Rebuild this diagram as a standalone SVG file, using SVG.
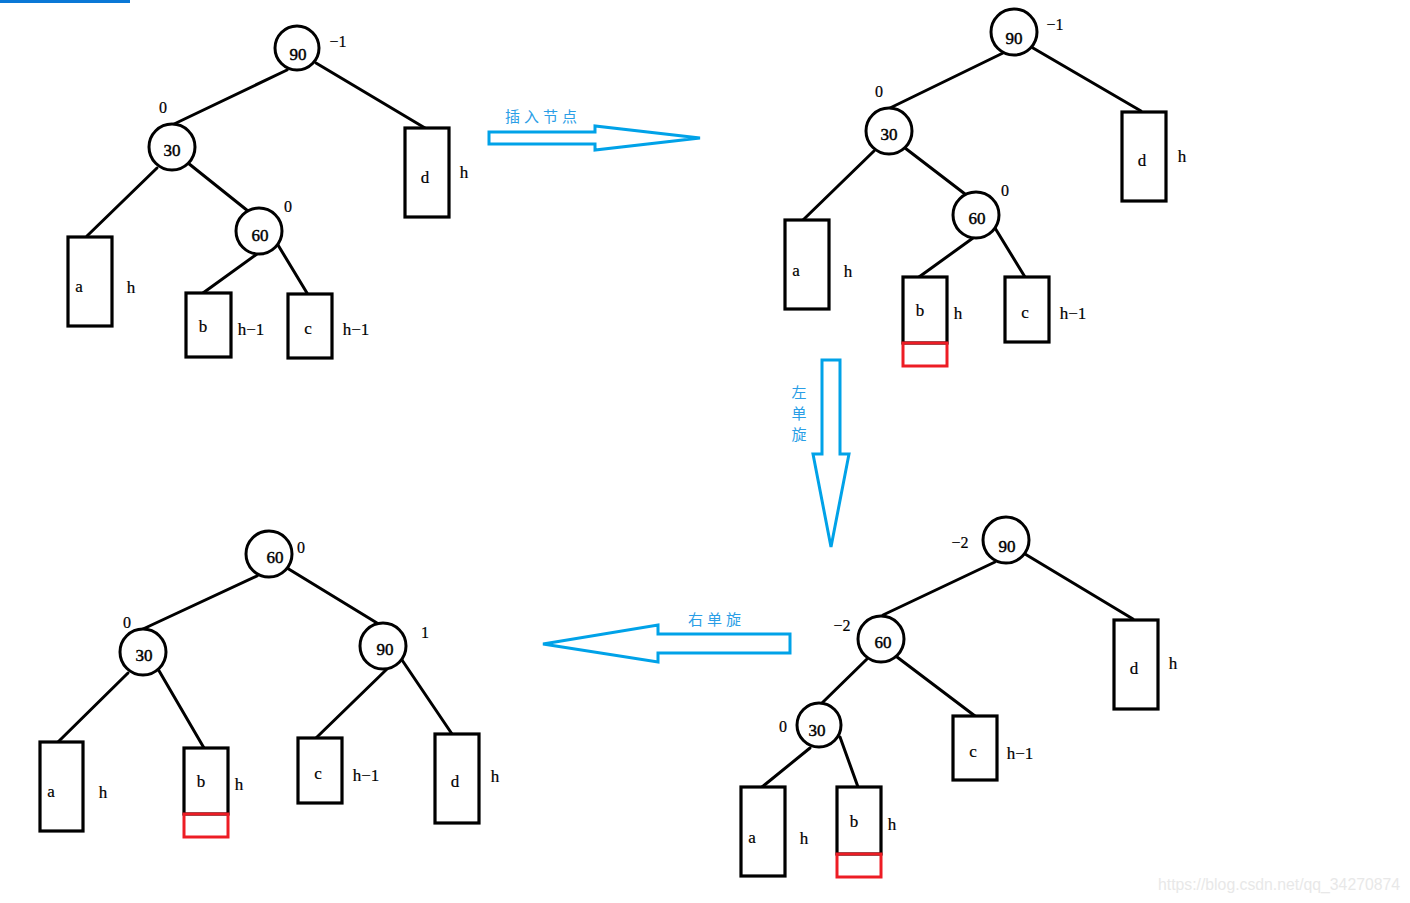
<svg xmlns="http://www.w3.org/2000/svg" width="1410" height="903" viewBox="0 0 1410 903">
  <style>
    .edge { stroke: #000; stroke-width: 3; fill: none; stroke-linecap: round; }
    .node circle { fill: #fff; stroke: #000; stroke-width: 3; }
    .node rect { fill: #fff; stroke: #000; stroke-width: 3.2; }
    rect.ins { fill: none; stroke: #ed1c24; stroke-width: 3; }
    text { font-family: "Liberation Serif", "DejaVu Serif", serif; font-size: 17px; fill: #000; }
    .key { text-anchor: middle; font-size: 17px; stroke: #000; stroke-width: 0.45; }
    .lbl { text-anchor: middle; stroke: #000; stroke-width: 0.2; }
    .bf { text-anchor: middle; font-size: 16px; stroke: #000; stroke-width: 0.2; }
    .step { fill: none; stroke: #00a2e8; stroke-width: 3; stroke-linejoin: miter; }
    .cn { font-family: "Noto Sans CJK SC", "Noto Sans", sans-serif; font-size: 15px; fill: #2a9ee6; letter-spacing: 4px; }
    .cnv { font-family: "Noto Sans CJK SC", "Noto Sans", sans-serif; font-size: 15px; fill: #2a9ee6; text-anchor: middle; }
    .mark { font-family: "Liberation Sans", Arial, sans-serif; font-size: 16px; fill: #e8e8e8; }
  </style>

  <!-- title bar accent -->
  <rect x="0" y="0" width="130" height="3" fill="#0a78d6"/>

  <!-- ===== tree 1: before insertion ===== -->
  <g id="t1-edges">
    <line class="edge" x1="287" y1="70" x2="172" y2="125"/>
    <line class="edge" x1="316" y1="63" x2="425" y2="128"/>
    <line class="edge" x1="157" y1="168" x2="87" y2="236"/>
    <line class="edge" x1="188" y1="163" x2="248" y2="211"/>
    <line class="edge" x1="257" y1="254" x2="203" y2="293"/>
    <line class="edge" x1="278" y1="245" x2="307" y2="293"/>
  </g>
  <g id="t1-n90" class="node">
    <circle cx="297" cy="48" r="22"/>
    <text class="key" x="298" y="60">90</text>
    <text class="bf" x="338" y="47">−1</text>
  </g>
  <g id="t1-n30" class="node">
    <circle cx="172" cy="147" r="23"/>
    <text class="key" x="172" y="156">30</text>
    <text class="bf" x="163" y="113">0</text>
  </g>
  <g id="t1-n60" class="node">
    <circle cx="259" cy="231" r="23"/>
    <text class="key" x="260" y="241">60</text>
    <text class="bf" x="288" y="212">0</text>
  </g>
  <g id="t1-a" class="node">
    <rect x="68" y="237" width="44" height="89"/>
    <text class="lbl" x="79" y="292">a</text>
    <text class="lbl" x="131" y="293">h</text>
  </g>
  <g id="t1-b" class="node">
    <rect x="186" y="293" width="45" height="64"/>
    <text class="lbl" x="203" y="332">b</text>
    <text class="lbl" x="251" y="335">h−1</text>
  </g>
  <g id="t1-c" class="node">
    <rect x="288" y="294" width="44" height="64"/>
    <text class="lbl" x="308" y="334">c</text>
    <text class="lbl" x="356" y="335">h−1</text>
  </g>
  <g id="t1-d" class="node">
    <rect x="405" y="128" width="44" height="89"/>
    <text class="lbl" x="425" y="183">d</text>
    <text class="lbl" x="464" y="178">h</text>
  </g>

  <!-- ===== step arrows ===== -->
  <g id="steps">
    <polygon class="step" points="489,132 595,132 595,126 700,138 595,150 595,144 489,144"/>
    <text class="cn" x="505" y="122">插入节点</text>

    <polygon class="step" points="822,360 840,360 840,454 849,454 831,547 813,454 822,454"/>
    <text class="cnv" x="799" y="398">左</text>
    <text class="cnv" x="799" y="419">单</text>
    <text class="cnv" x="799" y="440">旋</text>

    <polygon class="step" points="790,634 658,634 658,625 543,644 658,662 658,653 790,653"/>
    <text class="cn" x="688" y="625">右单旋</text>
  </g>

  <!-- ===== tree 2: after insertion under b ===== -->
  <g id="t2-edges">
    <line class="edge" x1="1003" y1="53" x2="890" y2="108"/>
    <line class="edge" x1="1033" y1="48" x2="1141" y2="111"/>
    <line class="edge" x1="874" y1="151" x2="803" y2="220"/>
    <line class="edge" x1="905" y1="148" x2="965" y2="194"/>
    <line class="edge" x1="973" y1="238" x2="919" y2="277"/>
    <line class="edge" x1="995" y1="228" x2="1025" y2="277"/>
  </g>
  <g id="t2-n90" class="node">
    <circle cx="1014" cy="32" r="23"/>
    <text class="key" x="1014" y="44">90</text>
    <text class="bf" x="1055" y="30">−1</text>
  </g>
  <g id="t2-n30" class="node">
    <circle cx="889" cy="131" r="23"/>
    <text class="key" x="889" y="140">30</text>
    <text class="bf" x="879" y="97">0</text>
  </g>
  <g id="t2-n60" class="node">
    <circle cx="976" cy="215" r="23"/>
    <text class="key" x="977" y="224">60</text>
    <text class="bf" x="1005" y="196">0</text>
  </g>
  <g id="t2-a" class="node">
    <rect x="785" y="220" width="44" height="89"/>
    <text class="lbl" x="796" y="276">a</text>
    <text class="lbl" x="848" y="277">h</text>
  </g>
  <g id="t2-b" class="node">
    <rect x="903" y="277" width="44" height="66"/>
    <rect class="ins" x="903" y="343" width="44" height="23"/>
    <text class="lbl" x="920" y="316">b</text>
    <text class="lbl" x="958" y="319">h</text>
  </g>
  <g id="t2-c" class="node">
    <rect x="1005" y="277" width="44" height="65"/>
    <text class="lbl" x="1025" y="318">c</text>
    <text class="lbl" x="1073" y="319">h−1</text>
  </g>
  <g id="t2-d" class="node">
    <rect x="1122" y="112" width="44" height="89"/>
    <text class="lbl" x="1142" y="166">d</text>
    <text class="lbl" x="1182" y="162">h</text>
  </g>

  <!-- ===== tree 3: after left rotation at 30 ===== -->
  <g id="t3-edges">
    <line class="edge" x1="995" y1="562" x2="883" y2="615"/>
    <line class="edge" x1="1025" y1="554" x2="1133" y2="619"/>
    <line class="edge" x1="867" y1="659" x2="822" y2="703"/>
    <line class="edge" x1="897" y1="657" x2="975" y2="716"/>
    <line class="edge" x1="810" y1="748" x2="762" y2="787"/>
    <line class="edge" x1="840" y1="737" x2="858" y2="787"/>
  </g>
  <g id="t3-n90" class="node">
    <circle cx="1006" cy="540" r="23"/>
    <text class="key" x="1007" y="552">90</text>
    <text class="bf" x="960" y="548">−2</text>
  </g>
  <g id="t3-n60" class="node">
    <circle cx="881" cy="639" r="23"/>
    <text class="key" x="883" y="648">60</text>
    <text class="bf" x="842" y="631">−2</text>
  </g>
  <g id="t3-n30" class="node">
    <circle cx="819" cy="725" r="22"/>
    <text class="key" x="817" y="736">30</text>
    <text class="bf" x="783" y="732">0</text>
  </g>
  <g id="t3-a" class="node">
    <rect x="741" y="787" width="44" height="89"/>
    <text class="lbl" x="752" y="843">a</text>
    <text class="lbl" x="804" y="844">h</text>
  </g>
  <g id="t3-b" class="node">
    <rect x="837" y="787" width="44" height="67"/>
    <rect class="ins" x="837" y="854" width="44" height="23"/>
    <text class="lbl" x="854" y="827">b</text>
    <text class="lbl" x="892" y="830">h</text>
  </g>
  <g id="t3-c" class="node">
    <rect x="953" y="716" width="44" height="64"/>
    <text class="lbl" x="973" y="757">c</text>
    <text class="lbl" x="1020" y="759">h−1</text>
  </g>
  <g id="t3-d" class="node">
    <rect x="1114" y="620" width="44" height="89"/>
    <text class="lbl" x="1134" y="674">d</text>
    <text class="lbl" x="1173" y="669">h</text>
  </g>

  <!-- ===== tree 4: after right rotation at 90 ===== -->
  <g id="t4-edges">
    <line class="edge" x1="257" y1="576" x2="143" y2="629"/>
    <line class="edge" x1="287" y1="568" x2="377" y2="623"/>
    <line class="edge" x1="128" y1="673" x2="58" y2="742"/>
    <line class="edge" x1="158" y1="669" x2="204" y2="748"/>
    <line class="edge" x1="387" y1="669" x2="316" y2="738"/>
    <line class="edge" x1="402" y1="660" x2="452" y2="734"/>
  </g>
  <g id="t4-n60" class="node">
    <circle cx="269" cy="554" r="23"/>
    <text class="key" x="275" y="563">60</text>
    <text class="bf" x="301" y="553">0</text>
  </g>
  <g id="t4-n30" class="node">
    <circle cx="143" cy="652" r="23"/>
    <text class="key" x="144" y="661">30</text>
    <text class="bf" x="127" y="628">0</text>
  </g>
  <g id="t4-n90" class="node">
    <circle cx="383" cy="646" r="23"/>
    <text class="key" x="385" y="655">90</text>
    <text class="bf" x="425" y="638">1</text>
  </g>
  <g id="t4-a" class="node">
    <rect x="40" y="742" width="43" height="89"/>
    <text class="lbl" x="51" y="797">a</text>
    <text class="lbl" x="103" y="798">h</text>
  </g>
  <g id="t4-b" class="node">
    <rect x="184" y="748" width="44" height="66"/>
    <rect class="ins" x="184" y="814" width="44" height="23"/>
    <text class="lbl" x="201" y="787">b</text>
    <text class="lbl" x="239" y="790">h</text>
  </g>
  <g id="t4-c" class="node">
    <rect x="298" y="738" width="44" height="65"/>
    <text class="lbl" x="318" y="779">c</text>
    <text class="lbl" x="366" y="781">h−1</text>
  </g>
  <g id="t4-d" class="node">
    <rect x="435" y="734" width="44" height="89"/>
    <text class="lbl" x="455" y="787">d</text>
    <text class="lbl" x="495" y="782">h</text>
  </g>

  <!-- footer -->
  <text class="mark" x="1158" y="890" textLength="242" lengthAdjust="spacingAndGlyphs">https://blog.csdn.net/qq_34270874</text>
</svg>
